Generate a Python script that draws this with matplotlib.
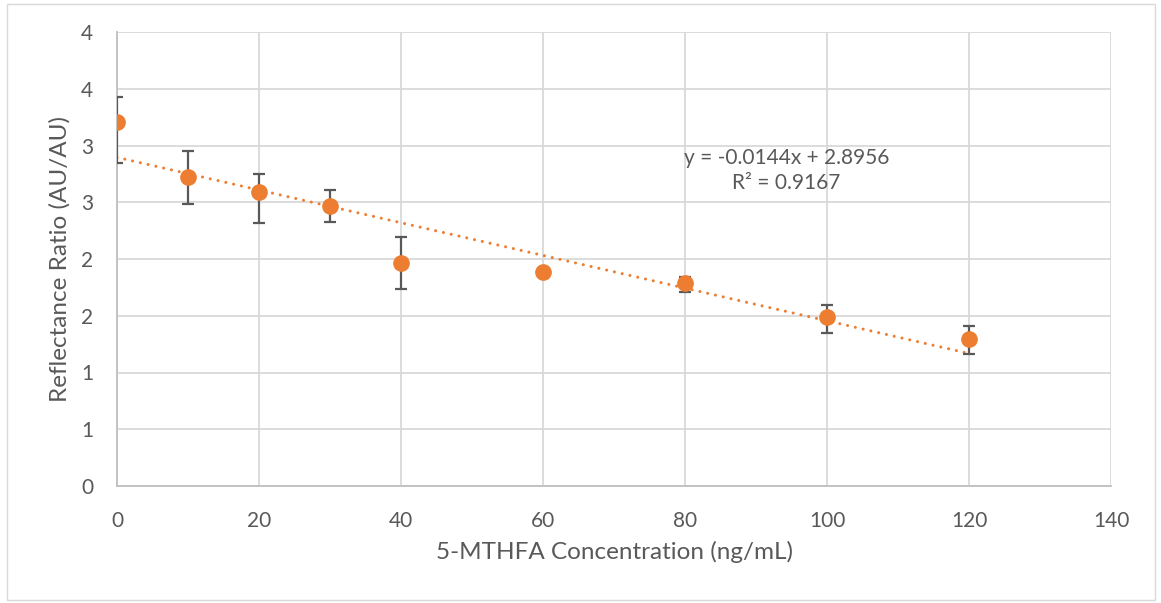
import numpy as np
import matplotlib.pyplot as plt
from matplotlib.patches import Rectangle

# Data
concentration = [0, 10, 20, 30, 40, 60, 80, 100, 120]
ratio = [3.204, 2.722, 2.593, 2.464, 1.962, 1.883, 1.786, 1.492, 1.292]
err_low = [0.361, 0.235, 0.276, 0.135, 0.229, 0.0, 0.074, 0.141, 0.126]
err_high = [0.226, 0.230, 0.156, 0.141, 0.234, 0.0, 0.058, 0.103, 0.118]

# Trendline as reported on the chart
slope = -0.0144
intercept = 2.8956
r_squared = 0.9167

y_ticks = [0, 0.5, 1.0, 1.5, 2.0, 2.5, 3.0, 3.5, 4.0]
y_tick_labels = ['0', '1', '1', '2', '2', '3', '3', '4', '4']
x_ticks = [0, 20, 40, 60, 80, 100, 120, 140]

orange = '#ED7D31'
text_gray = '#595959'
grid_gray = '#D9D9D9'

plt.rcParams['font.family'] = ['Lato', 'DejaVu Sans']

fig = plt.figure(figsize=(11.61, 6.03), dpi=100)
ax = fig.add_axes([117/1161, 1-486/603, (1111-117)/1161, (486-32)/603])

# chart-area border
fig.patches.append(Rectangle((7/1161, 3/603), 1148/1161, 596/603, transform=fig.transFigure,
                             fill=False, edgecolor=grid_gray, linewidth=1))

# trendline
xt = np.array([0, 120])
ax.plot(xt, slope*xt + intercept, color=orange, linewidth=2.2,
        linestyle=(0, (0.01, 2.6)), dash_capstyle='round', zorder=2)

# data with error bars
ax.errorbar(concentration, ratio, yerr=[err_low, err_high], fmt='o', color=orange,
            markersize=11, ecolor=text_gray, elinewidth=1.6, capsize=4.3, capthick=1.6,
            zorder=3)

ax.text(94.3, 2.78, f'y = {slope}x + {intercept}\nR² = {r_squared}', ha='center', va='center',
        multialignment='center', fontsize=15, color=text_gray, linespacing=1.3)

ax.set_xlim(0, 140)
ax.set_ylim(0, 4)
ax.set_xticks(x_ticks)
ax.set_yticks(y_ticks)
ax.set_yticklabels(y_tick_labels)
ax.grid(True, color=grid_gray, linewidth=1.3)
ax.set_axisbelow(True)
ax.tick_params(length=0, labelsize=15, labelcolor=text_gray)
ax.tick_params(axis='x', pad=18)
ax.tick_params(axis='y', pad=17)
for side in ['top', 'right']:
    ax.spines[side].set_visible(False)
for side in ['left', 'bottom']:
    ax.spines[side].set_color('#BFBFBF')
    ax.spines[side].set_linewidth(1.3)

ax.set_xlabel('5-MTHFA Concentration (ng/mL)', fontsize=17.5, color=text_gray, labelpad=7)
ax.set_ylabel('Reflectance Ratio (AU/AU)', fontsize=17.5, color=text_gray, labelpad=8)

fig.savefig('out.png', dpi=100)
